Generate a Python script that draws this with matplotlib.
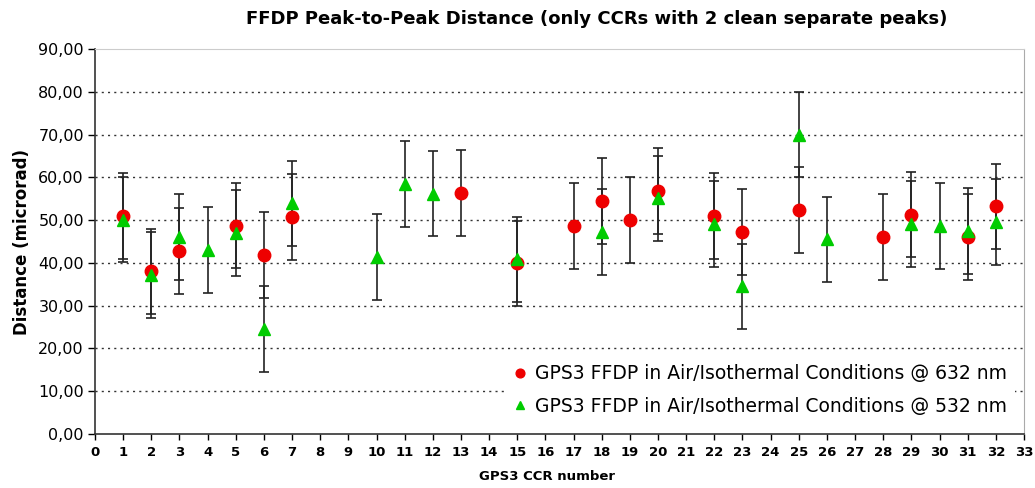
import numpy as np
import matplotlib
matplotlib.use("Agg")
import matplotlib.pyplot as plt
from matplotlib.ticker import FuncFormatter, MultipleLocator

# CCR numbers and peak-to-peak distances (microrad)
ccr_632 = [1, 2, 3, 5, 6, 7, 13, 15, 17, 18, 19, 20, 22, 23, 25, 28, 29, 31, 32]
dist_632 = [50.9, 38.0, 42.8, 48.7, 41.8, 50.7, 56.4, 39.9, 48.6, 54.5, 50.0, 56.8,
            50.9, 47.2, 52.4, 46.1, 51.3, 46.0, 53.2]
ccr_532 = [1, 2, 3, 4, 5, 6, 7, 10, 11, 12, 15, 18, 20, 22, 23, 25, 26, 29, 30, 31, 32]
dist_532 = [50.1, 37.2, 46.1, 43.0, 47.0, 24.6, 53.9, 41.4, 58.4, 56.2, 40.8, 47.2,
            55.1, 49.1, 34.5, 70.0, 45.5, 49.1, 48.6, 47.5, 49.6]
err = 10.0

label_632 = "GPS3 FFDP in Air/Isothermal Conditions @ 632 nm"
label_532 = "GPS3 FFDP in Air/Isothermal Conditions @ 532 nm"
title = "FFDP Peak-to-Peak Distance (only CCRs with 2 clean separate peaks)"
xlabel = "GPS3 CCR number"
ylabel = "Distance (microrad)"

plt.rcParams['font.family'] = ['DejaVu Sans']

fig = plt.figure(figsize=(10.35, 4.88), dpi=100)
ax = fig.add_axes([95/1035, 1 - 434/488, 929/1035, 385/488])

ax.errorbar(ccr_632, dist_632, yerr=err, fmt='none', ecolor='#222222',
            elinewidth=1.2, capsize=3.5, capthick=1.2, zorder=2)
ax.errorbar(ccr_532, dist_532, yerr=err, fmt='none', ecolor='#222222',
            elinewidth=1.2, capsize=3.5, capthick=1.2, zorder=2)
ax.plot(ccr_632, dist_632, 'o', color='#ee0000', markersize=9, linestyle='none',
        label=label_632, zorder=3)
ax.plot(ccr_532, dist_532, '^', color='#00cc00', markersize=9, linestyle='none',
        label=label_532, zorder=4)

ax.set_xlim(0, 33)
ax.set_ylim(0, 90)
ax.xaxis.set_major_locator(MultipleLocator(1))
ax.yaxis.set_major_locator(MultipleLocator(10))
ax.yaxis.set_major_formatter(FuncFormatter(lambda v, p: f"{v:.2f}".replace('.', ',')))

for y in range(10, 90, 10):
    ax.axhline(y, color='#333333', linestyle=(0, (1.5, 3)), linewidth=1.0, zorder=1)

ax.tick_params(axis='y', direction='out', length=5, width=1, labelsize=11.5, pad=3)
ax.tick_params(axis='x', direction='out', length=4, width=1, labelsize=9.5, pad=5)
for lab in ax.get_xticklabels():
    lab.set_fontweight('bold')

for s in ['left', 'bottom']:
    ax.spines[s].set_color('#333333')
    ax.spines[s].set_linewidth(1.2)
ax.spines['top'].set_color('#cccccc')
ax.spines['right'].set_color('#aaaaaa')

fig.text(597/1035, 1 - 19/488, title, fontsize=13, fontweight='bold',
         ha='center', va='center')
fig.text(547/1035, 1 - 477/488, xlabel, fontsize=9.5, fontweight='bold',
         ha='center', va='center')
ax.set_ylabel(ylabel, fontsize=12, fontweight='bold', labelpad=5)

leg = ax.legend(loc='lower right', bbox_to_anchor=(1.0, 0.003), frameon=True,
                fontsize=13.5, markerscale=0.7, handlelength=0.8, handletextpad=0.4,
                labelspacing=0.72, borderpad=0.4)
leg.get_frame().set_facecolor('white')
leg.get_frame().set_edgecolor('none')
leg.get_frame().set_alpha(1.0)
leg.set_zorder(5)

fig.savefig("out.png", dpi=100)
